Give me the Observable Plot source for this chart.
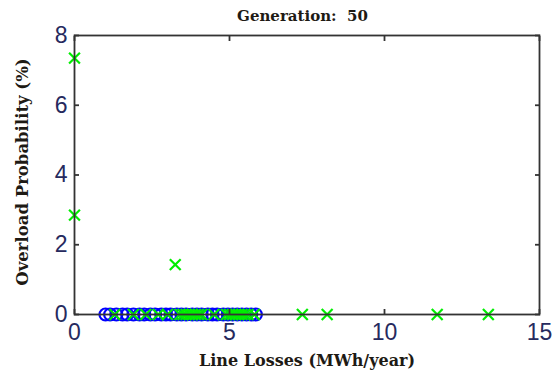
<!DOCTYPE html>
<html><head><meta charset="utf-8">
<script src="https://cdn.jsdelivr.net/npm/d3@7"></script>
<script src="https://cdn.jsdelivr.net/npm/@observablehq/plot@0.6"></script>
<style>
html,body{margin:0;padding:0;background:#fff;}
#chart{position:relative;width:555px;height:380px;}
.title{position:absolute;left:0;width:555px;top:7px;text-align:center;font-family:"DejaVu Serif",serif;font-weight:bold;font-size:15px;color:#1e1a14;padding-left:50px;box-sizing:border-box;white-space:pre;}
</style>
</head><body>
<div id="chart"></div>
<script>
const titleText = "Generation:  50";
const xLabel = "Line Losses (MWh/year)";
const yLabel = "Overload Probability (%)";
const xTicks = [0, 5, 10, 15];
const yTicks = [0, 2, 4, 6, 8];

// Blue circles (all at 0 % overload)
const blueX = [1.0, 1.15, 1.35, 1.55, 1.7, 1.9, 2.1, 2.25, 2.45, 2.6, 2.8, 2.95, 3.1, 3.3, 3.45, 3.6, 3.8, 3.95, 4.1, 4.3, 4.45, 4.6, 4.8, 4.95, 5.1, 5.25, 5.4, 5.55, 5.7, 5.85];
const blueY = blueX.map(() => 0);

// Green crosses
const greenX = [0, 0, 3.25, 1.3, 1.9, 2.3, 2.7, 3.0, 3.4, 3.5, 3.6, 3.7, 3.8, 3.9, 4.0, 4.1, 4.5, 4.9, 5.0, 5.1, 5.2, 5.3, 5.4, 5.5, 5.6, 5.8, 7.35, 8.15, 11.7, 13.35];
const greenY = [7.35, 2.85, 1.43, 0, 0, 0, 0, 0, 0, 0, 0, 0, 0, 0, 0, 0, 0, 0, 0, 0, 0, 0, 0, 0, 0, 0, 0, 0, 0, 0];

const blue = blueX.map((x, i) => ({x, y: blueY[i]}));
const green = greenX.map((x, i) => ({x, y: greenY[i]}));

const tickFont = {fontSize: 23, fontFamily: "Liberation Sans, Arial, sans-serif", fill: "#262a5e"};

const chart = Plot.plot({
  width: 555, height: 380,
  marginLeft: 74, marginRight: 16, marginTop: 35, marginBottom: 66,
  style: {background: "transparent", overflow: "visible"},
  x: {domain: [0, 15], ticks: xTicks},
  y: {domain: [0, 8], ticks: yTicks},
  marks: [
    Plot.dot(blue, {x: "x", y: "y", r: 6, stroke: "#0000ff", strokeWidth: 2.2, fill: "none"}),
    Plot.dot(green, {x: "x", y: "y", r: 5, symbol: "times", stroke: "#00ee00", strokeWidth: 2.2}),
    Plot.frame({stroke: "#333", strokeWidth: 1.8}),
    Plot.axisX({anchor: "bottom", ticks: xTicks, tickSize: -5, tickPadding: 14, stroke: "#333", strokeWidth: 1.8, label: null, tickFormat: d => d, ...tickFont}),
    Plot.axisX({anchor: "top", ticks: xTicks, tickSize: -5, stroke: "#333", strokeWidth: 1.8, label: null, tickFormat: () => ""}),
    Plot.axisY({anchor: "left", ticks: yTicks, tickSize: -5, tickPadding: 12, stroke: "#333", strokeWidth: 1.8, label: null, tickFormat: d => d, ...tickFont}),
    Plot.axisY({anchor: "right", ticks: yTicks, tickSize: -5, stroke: "#333", strokeWidth: 1.8, label: null, tickFormat: () => ""}),
    Plot.text([xLabel], {frameAnchor: "bottom", dy: 51, text: d => d, fontSize: 16, fontWeight: "bold", fontFamily: "DejaVu Serif, serif", fill: "#1e1a14"}),
    Plot.text([yLabel], {frameAnchor: "left", dx: -52, dy: -3, rotate: -90, textAnchor: "middle", text: d => d, fontSize: 16.5, fontWeight: "bold", fontFamily: "DejaVu Serif, serif", fill: "#1e1a14"})
  ]
});
chart.style.position = "absolute";
chart.style.left = "0px";
chart.style.top = "0px";
const root = document.getElementById("chart");
root.appendChild(chart);
const t = document.createElement("div");
t.className = "title";
t.textContent = titleText;
root.appendChild(t);
</script>
</body></html>
